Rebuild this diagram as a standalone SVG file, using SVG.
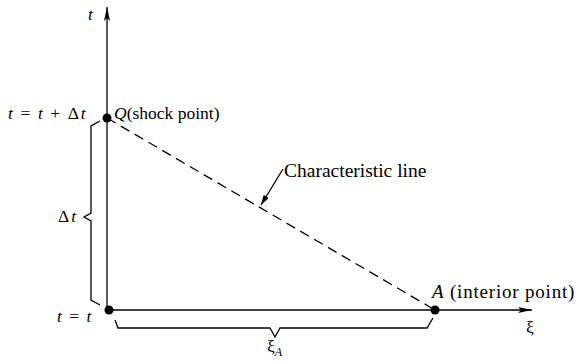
<svg xmlns="http://www.w3.org/2000/svg" width="578" height="364" viewBox="0 0 578 364">
<defs>
<marker id="ah" viewBox="0 0 14 6" refX="14" refY="3" markerWidth="14" markerHeight="6" markerUnits="userSpaceOnUse" orient="auto">
<path d="M0,0 L14,3 L0,6 L3,3 Z" fill="#000"/>
</marker>
<marker id="ahs" viewBox="0 0 10 6" refX="10" refY="3" markerWidth="10" markerHeight="6" markerUnits="userSpaceOnUse" orient="auto">
<path d="M0,0 L10,3 L0,6 Z" fill="#000"/>
</marker>
</defs>
<style>
text{font-family:'Liberation Serif','DejaVu Serif',serif;font-size:17.5px;fill:#000}
text.big{font-size:19px;letter-spacing:0.8px}
text.char{font-size:19.5px}
.i{font-style:italic}
.sub{font-size:12px}
.ln{stroke:#000;stroke-width:1.3;fill:none}
.dot{fill:#000}
</style>
<rect width="578" height="364" fill="#fff"/>
<g id="connectors">
<line class="ln" x1="107" y1="310" x2="107" y2="7" marker-end="url(#ah)"/>
<line class="ln" x1="109" y1="310" x2="532" y2="310" marker-end="url(#ah)"/>
<line class="ln" x1="107" y1="118" x2="435" y2="310" stroke-dasharray="10,6"/>
<line class="ln" x1="283" y1="169" x2="261" y2="205" marker-end="url(#ahs)"/>
<path class="ln" d="M100,121 L91,126 L91,213 L84,217 L91,221 L91,300 L100,305"/>
<path class="ln" d="M115,320 L118,328 L270,328 L275,337 L280,328 L427,328 L433,318"/>
</g>
<g id="node-Q">
<circle class="dot" cx="107" cy="118" r="4.5"/>
<text x="114" y="119"><tspan class="i">Q</tspan>(shock point)</text>
</g>
<g id="node-origin">
<circle class="dot" cx="109" cy="310" r="4.5"/>
</g>
<g id="node-A">
<circle class="dot" cx="435" cy="310" r="4.5"/>
<text class="big" x="432" y="298"><tspan class="i">A</tspan> (interior point)</text>
</g>
<g id="labels">
<text class="i" x="88" y="20">t</text>
<text x="8" y="119" letter-spacing="1.6"><tspan class="i">t</tspan> = <tspan class="i">t</tspan> + Δ<tspan class="i">t</tspan></text>
<text x="58" y="222" letter-spacing="2">Δ<tspan class="i">t</tspan></text>
<text x="57" y="322" letter-spacing="1.5"><tspan class="i">t</tspan> = <tspan class="i">t</tspan></text>
<text class="char" x="284" y="177">Characteristic line</text>
<text x="526" y="333">ξ</text>
<text x="267" y="352">ξ<tspan class="i sub" dy="4">A</tspan></text>
</g>
</svg>
